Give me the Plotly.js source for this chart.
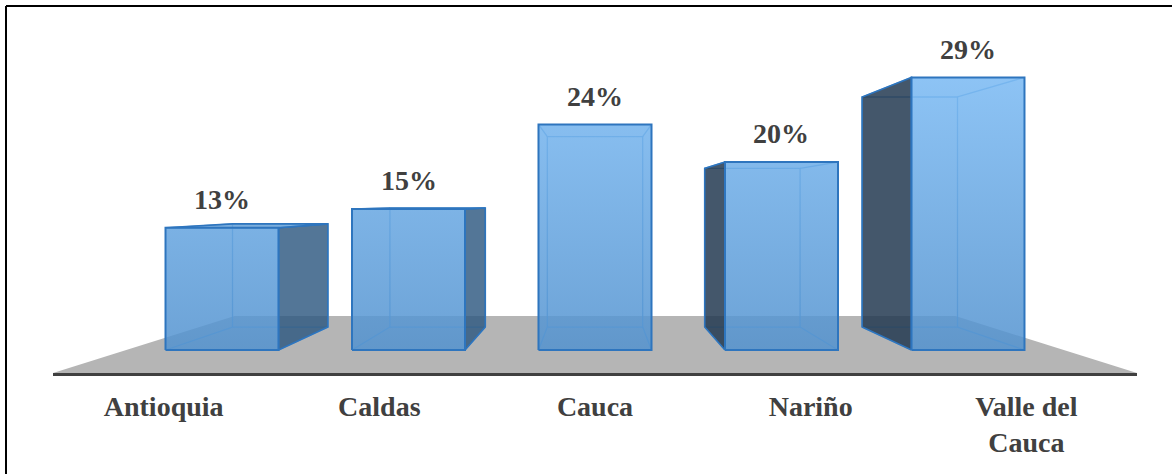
<!DOCTYPE html>
<html>
<head>
<meta charset="utf-8">
<script src="https://cdn.plot.ly/plotly-3.0.1.min.js"></script>
<style>
  html, body { margin: 0; padding: 0; background: #ffffff; }
  #chart { width: 1172px; height: 474px; }
</style>
</head>
<body>
<div id="chart"></div>
<script>
// ---- data ----
const categories = ['Antioquia', 'Caldas', 'Cauca', 'Nariño', 'Valle del<br>Cauca'];
const values = [13, 15, 24, 20, 29];
const valueLabels = ['13%', '15%', '24%', '20%', '29%'];

// ---- perspective / style constants ----
const W = 1172, H = 474;
const M = { l: 53, r: 35, t: 10, b: 101 };
const VP = { x: 2, y: 15.64 };      // vanishing point in data units
const DEPTH = 0.844;               // scale of the bar back face
const FLOOR_FRONT = 1.1565;        // scale of floor front edge
const FLOOR_BACK = 0.769;          // scale of floor back edge
const FLOOR_HALF = 2.513;          // floor half width (base plane)
const BAR_HALF = 0.303;            // half bar width (category units)
const PX_PER_UNIT_Y = 9.4;

const plotW = W - M.l - M.r, plotH = H - M.t - M.b;
const xRange = [VP.x - FLOOR_HALF * FLOOR_FRONT, VP.x + FLOOR_HALF * FLOOR_FRONT];
const yMin = VP.y * (1 - FLOOR_FRONT);
const yRange = [yMin, yMin + plotH / PX_PER_UNIT_Y];

function proj(p, s) { return [VP.x + (p[0] - VP.x) * s, VP.y + (p[1] - VP.y) * s]; }

const STRONG = 'rgb(46,117,190)';
const LIGHT = 'rgba(95,158,215,0.9)';
const FONT = 'Liberation Serif, Times New Roman, serif';

const traces = [];
function poly(pts, opts) {
  const xs = pts.map(p => p[0]).concat([pts[0][0]]);
  const ys = pts.map(p => p[1]).concat([pts[0][1]]);
  const t = {
    type: 'scatter', mode: 'lines', x: xs, y: ys,
    hoverinfo: 'skip', showlegend: false,
    line: { color: opts.line || 'rgba(0,0,0,0)', width: opts.width || 0 }
  };
  if (opts.fill) { t.fill = 'toself'; t.fillcolor = opts.fill; }
  if (opts.gradient) { t.fill = 'toself'; t.fillgradient = opts.gradient; }
  traces.push(t);
}
function seg(a, b, color, width) {
  traces.push({ type: 'scatter', mode: 'lines', x: [a[0], b[0]], y: [a[1], b[1]],
    hoverinfo: 'skip', showlegend: false, line: { color: color, width: width } });
}

// floor
{
  const fl = [VP.x - FLOOR_HALF, 0], fr = [VP.x + FLOOR_HALF, 0];
  poly([proj(fl, FLOOR_FRONT), proj(fr, FLOOR_FRONT), proj(fr, FLOOR_BACK), proj(fl, FLOOR_BACK)],
       { fill: 'rgb(181,181,181)' });
}

// bars
values.forEach((v, i) => {
  const FL = [i - BAR_HALF, 0], FR = [i + BAR_HALF, 0], TR = [i + BAR_HALF, v], TL = [i - BAR_HALF, v];
  const bFL = proj(FL, DEPTH), bFR = proj(FR, DEPTH), bTR = proj(TR, DEPTH), bTL = proj(TL, DEPTH);
  // back face & connecting edges (seen through the front)
  poly([bFL, bFR, bTR, bTL], { line: LIGHT, width: 1.3 });
  seg(FL, bFL, LIGHT, 1.3); seg(FR, bFR, LIGHT, 1.3);
  seg(TR, bTR, LIGHT, 1.3); seg(TL, bTL, LIGHT, 1.3);
  // visible side faces
  if (FR[0] < VP.x) poly([FR, TR, bTR, bFR], { fill: 'rgba(45,88,128,0.82)', line: STRONG, width: 1.6 });
  if (FL[0] > VP.x) poly([FL, TL, bTL, bFL], { fill: 'rgba(35,57,81,0.85)', line: STRONG, width: 1.6 });
  // top face if visible
  if (v < VP.y) poly([TL, TR, bTR, bTL], { fill: 'rgba(100,160,215,0.85)', line: STRONG, width: 1.6 });
  // front face
  poly([FL, FR, TR, TL], {
    gradient: { type: 'vertical', start: 0, stop: 30,
      colorscale: [[0, 'rgba(82,146,207,0.85)'], [1, 'rgba(122,186,244,0.85)']] },
    line: STRONG, width: 2
  });
});

const annotations = values.map((v, i) => ({
  x: i, y: v, xref: 'x', yref: 'y', text: valueLabels[i], showarrow: false,
  yanchor: 'middle', yshift: 28,
  font: { family: FONT, size: 28, color: '#404040', weight: 'bold' }
}));

const toPaperX = px => (px - M.l) / plotW;
const toPaperY = py => (H - M.b - py) / plotH;

const layout = {
  width: W, height: H,
  margin: M,
  paper_bgcolor: '#ffffff', plot_bgcolor: 'rgba(0,0,0,0)',
  xaxis: {
    range: xRange, showgrid: false, zeroline: false,
    showline: true, linecolor: '#404040', linewidth: 3,
    tickmode: 'array',
    tickvals: categories.map((c, i) => VP.x + (i - VP.x) * FLOOR_FRONT),
    ticktext: categories,
    ticks: '', ticklabelstandoff: 6,
    tickfont: { family: FONT, size: 28, color: '#404040', weight: 'bold' },
    fixedrange: true
  },
  yaxis: { range: yRange, visible: false, showgrid: false, zeroline: false, fixedrange: true },
  annotations: annotations,
  shapes: [
    { type: 'line', xref: 'paper', yref: 'paper', x0: toPaperX(6), x1: toPaperX(6),
      y0: toPaperY(6), y1: toPaperY(H + 2), line: { color: '#000', width: 2 } },
    { type: 'line', xref: 'paper', yref: 'paper', x0: toPaperX(6), x1: toPaperX(W + 2),
      y0: toPaperY(6), y1: toPaperY(6), line: { color: '#000', width: 2 } }
  ],
  showlegend: false
};

Plotly.newPlot('chart', traces, layout, { displayModeBar: false, staticPlot: true });
</script>
</body>
</html>
